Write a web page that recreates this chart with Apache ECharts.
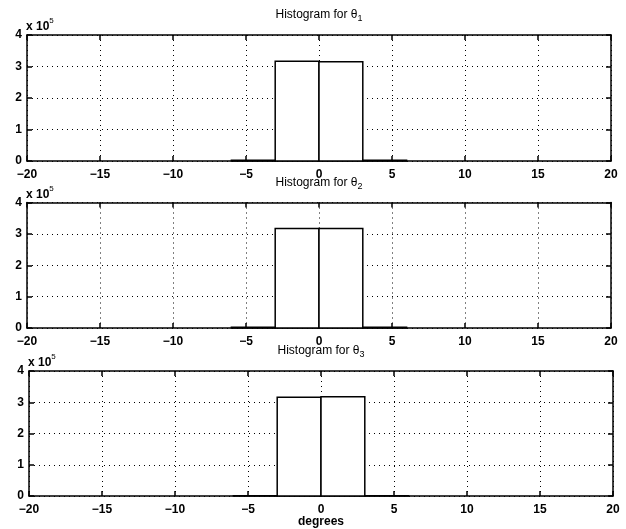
<!DOCTYPE html>
<html>
<head>
<meta charset="utf-8">
<script src="https://cdn.jsdelivr.net/npm/echarts@6/dist/echarts.min.js"></script>
<style>html,body{margin:0;padding:0;background:#fff;}#c{width:626px;height:529px;}</style>
</head>
<body>
<div id="c"></div>
<script>
// Histogram bin edges (degrees)
const binStarts = [-6, -3, 0, 3];
const binEnds   = [-3, 0, 3, 6];
// Counts in units of 1e5
const counts1 = [0.025, 3.17, 3.15, 0.025];
const counts2 = [0.025, 3.17, 3.17, 0.025];
const counts3 = [0.008, 3.16, 3.18, 0.008];
const xTicks = [-20, -15, -10, -5, 0, 5, 10, 15, 20];
const yTicks = [0, 1, 2, 3, 4];
const titles = ['1', '2', '3'];

const FONT = 'Liberation Sans, Arial, Helvetica, sans-serif';
const grids = [
  {left: 27, right: 15, top: 35, height: 126},
  {left: 27, right: 15, top: 202.5, height: 125.5},
  {left: 29, right: 13, top: 371, height: 125}
];
const allCounts = [counts1, counts2, counts3];

const xAxes = [], yAxes = [], series = [], graphics = [];
grids.forEach((g, i) => {
  xAxes.push({
    type: 'value', gridIndex: i, min: xTicks[0], max: xTicks[xTicks.length - 1], interval: 5,
    axisLine: {show: true, onZero: false, lineStyle: {color: '#000', width: 1.5}},
    axisTick: {show: true, inside: true, length: 5, lineStyle: {color: '#000', width: 1.5}},
    axisLabel: {color: '#000', fontFamily: FONT, fontSize: 12, fontWeight: 'bold', margin: 8,
      formatter: v => (v < 0 ? '\u2212' + Math.abs(v) : String(v))},
    splitLine: {show: true, lineStyle: {color: '#000', type: [1, 4], width: 1}}
  });
  xAxes.push({
    type: 'value', gridIndex: i, position: 'top', min: xTicks[0], max: xTicks[xTicks.length - 1], interval: 5,
    axisLine: {show: true, onZero: false, lineStyle: {color: '#000', width: 1.5}},
    axisTick: {show: true, inside: true, length: 5, lineStyle: {color: '#000', width: 1.5}},
    axisLabel: {show: false}, splitLine: {show: false}
  });
  yAxes.push({
    type: 'value', gridIndex: i, min: 0, max: 4, interval: 1,
    axisLine: {show: true, onZero: false, lineStyle: {color: '#000', width: 1.5}},
    axisTick: {show: true, inside: true, length: 5, lineStyle: {color: '#000', width: 1.5}},
    axisLabel: {color: '#000', fontFamily: FONT, fontSize: 12, fontWeight: 'bold', margin: 5},
    splitLine: {show: true, lineStyle: {color: '#000', type: [1, 4], width: 1}}
  });
  yAxes.push({
    type: 'value', gridIndex: i, position: 'right', min: 0, max: 4, interval: 1,
    axisLine: {show: true, onZero: false, lineStyle: {color: '#000', width: 1.5}},
    axisTick: {show: true, inside: true, length: 5, lineStyle: {color: '#000', width: 1.5}},
    axisLabel: {show: false}, splitLine: {show: false}
  });
  const data = binStarts.map((s, k) => [s, binEnds[k], allCounts[i][k]]);
  series.push({
    type: 'custom', xAxisIndex: 2 * i, yAxisIndex: 2 * i, data: data, z: 5,
    encode: {x: [0, 1], y: 2},
    renderItem: function (params, api) {
      const p0 = api.coord([api.value(0), api.value(2)]);
      const p1 = api.coord([api.value(1), 0]);
      return {
        type: 'rect',
        shape: {x: p0[0], y: p0[1], width: p1[0] - p0[0], height: p1[1] - p0[1]},
        style: {fill: '#fff', stroke: '#000', lineWidth: 1.5}
      };
    }
  });
  graphics.push({
    type: 'text', left: g.left - 1, top: g.top - 18,
    style: {text: '{a|x 10}{s|5}', rich: {
      a: {fontFamily: FONT, fontSize: 12, fontWeight: 'bold', fill: '#000', verticalAlign: 'bottom'},
      s: {fontFamily: FONT, fontSize: 8, fill: '#000', padding: [0, 0, 8, 0], verticalAlign: 'bottom'}
    }}
  });
  graphics.push({
    type: 'text', x: 319 + (i === 2 ? 2 : 0), y: g.top - 20,
    style: {text: '{a|Histogram for \u03B8}{s|' + titles[i] + '}', align: 'center', verticalAlign: 'middle', rich: {
      a: {fontFamily: FONT, fontSize: 12, fill: '#000'},
      s: {fontFamily: FONT, fontSize: 9, fill: '#000', padding: [8, 0, 0, 0]}
    }}
  });
});
graphics.push({
  type: 'text', x: 321, y: 522,
  style: {text: 'degrees', align: 'center', verticalAlign: 'middle',
    font: 'bold 12px ' + FONT, fill: '#000'}
});

const chart = echarts.init(document.getElementById('c'), null, {renderer: 'canvas'});
chart.setOption({
  animation: false,
  backgroundColor: '#fff',
  grid: grids,
  xAxis: xAxes,
  yAxis: yAxes,
  series: series,
  graphic: graphics
});
</script>
</body>
</html>
